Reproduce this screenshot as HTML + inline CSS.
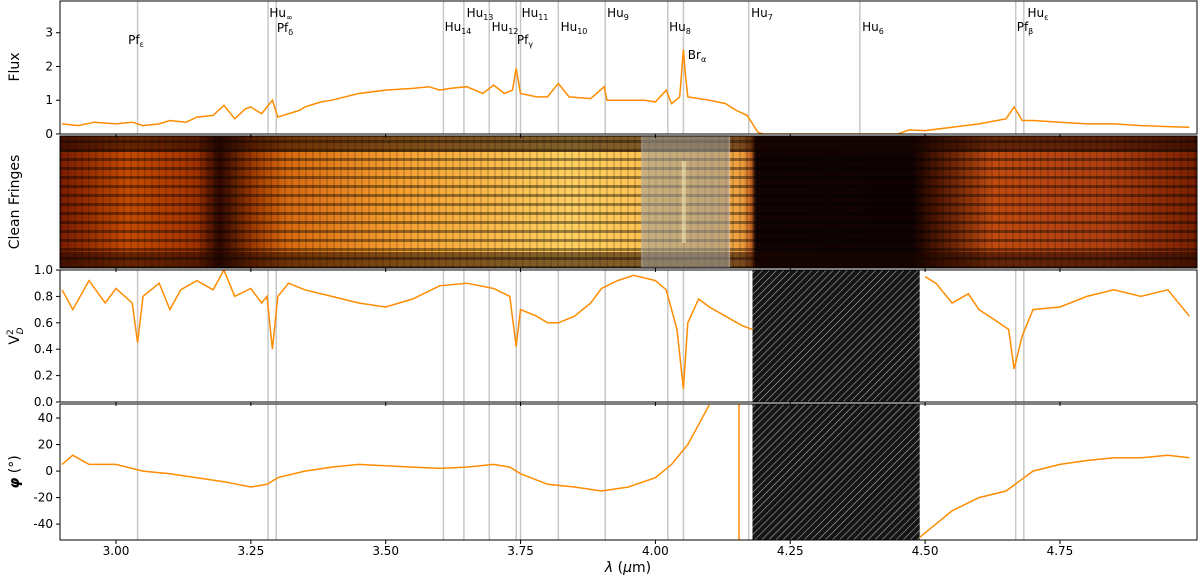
<!DOCTYPE html>
<html><head><meta charset="utf-8"><style>
body{margin:0;background:#fff}
svg{font-family:"DejaVu Sans","Liberation Sans",sans-serif;display:block}
</style></head><body>
<svg id="chart" width="1200" height="580" viewBox="0 0 1200 580" xmlns="http://www.w3.org/2000/svg">
<defs>
<pattern id="hatch" width="5" height="5" patternUnits="userSpaceOnUse" patternTransform="rotate(45)">
<rect width="5" height="5" fill="#151515"/><line x1="0" y1="0" x2="0" y2="5" stroke="#aaa" stroke-width="1.2"/></pattern>
<linearGradient id="fr" x1="0" x2="1" y1="0" y2="0">
<stop offset="0" stop-color="#7a1c00"/><stop offset="0.06" stop-color="#c44a00"/><stop offset="0.12" stop-color="#a33300"/>
<stop offset="0.14" stop-color="#300800"/><stop offset="0.17" stop-color="#a03a00"/><stop offset="0.2" stop-color="#d86a10"/>
<stop offset="0.3" stop-color="#f5a030"/><stop offset="0.45" stop-color="#ffd060"/><stop offset="0.52" stop-color="#ffc050"/>
<stop offset="0.6" stop-color="#f0a040"/><stop offset="0.608" stop-color="#c06020"/><stop offset="0.612" stop-color="#140303"/>
<stop offset="0.75" stop-color="#100202"/><stop offset="0.765" stop-color="#401000"/><stop offset="0.82" stop-color="#c04a10"/>
<stop offset="0.92" stop-color="#b04010"/><stop offset="1" stop-color="#7a2000"/>
</linearGradient>
<pattern id="vstr" width="7" height="132" patternUnits="userSpaceOnUse"><rect x="4" width="2" height="132" fill="#000" opacity="0.15"/></pattern>
<pattern id="hstr" width="1200" height="9" patternUnits="userSpaceOnUse"><rect y="5" width="1200" height="3" fill="#000" opacity="0.4"/></pattern>
</defs>
<g id="root"></g>
</svg>
<script>
const fluxLam=[2.90,2.93,2.96,3.00,3.03,3.05,3.08,3.10,3.13,3.15,3.18,3.20,3.22,3.24,3.25,3.27,3.29,3.30,3.32,3.34,3.35,3.38,3.40,3.45,3.50,3.55,3.58,3.60,3.62,3.65,3.68,3.70,3.72,3.735,3.742,3.75,3.78,3.80,3.82,3.84,3.88,3.905,3.91,3.93,3.98,4.00,4.02,4.03,4.045,4.052,4.056,4.06,4.10,4.13,4.15,4.17,4.19,4.20,4.30,4.40,4.45,4.47,4.50,4.55,4.60,4.65,4.665,4.68,4.70,4.75,4.80,4.85,4.90,4.95,4.99];
const fluxVal=[0.30,0.25,0.35,0.30,0.35,0.25,0.30,0.40,0.35,0.50,0.55,0.85,0.45,0.75,0.80,0.60,1.00,0.50,0.60,0.70,0.80,0.95,1.00,1.20,1.30,1.35,1.40,1.30,1.35,1.40,1.20,1.45,1.20,1.30,1.95,1.20,1.10,1.10,1.50,1.10,1.05,1.40,1.00,1.00,1.00,0.95,1.30,0.90,1.10,2.50,1.70,1.10,1.00,0.90,0.70,0.55,0.05,0.00,0.00,0.00,0.00,0.12,0.10,0.20,0.30,0.45,0.80,0.40,0.40,0.35,0.30,0.30,0.25,0.22,0.20];
const v2Lam=[2.90,2.92,2.95,2.98,3.00,3.03,3.04,3.05,3.08,3.10,3.12,3.15,3.18,3.20,3.22,3.25,3.27,3.28,3.29,3.30,3.32,3.35,3.40,3.45,3.50,3.55,3.60,3.65,3.70,3.73,3.742,3.75,3.78,3.80,3.82,3.85,3.88,3.90,3.93,3.96,4.00,4.02,4.04,4.052,4.06,4.08,4.10,4.13,4.16,4.18];
const v2Val=[0.85,0.70,0.92,0.75,0.86,0.75,0.45,0.80,0.90,0.70,0.85,0.92,0.85,1.00,0.80,0.86,0.75,0.80,0.40,0.80,0.90,0.85,0.80,0.75,0.72,0.78,0.88,0.90,0.86,0.80,0.42,0.70,0.65,0.60,0.60,0.65,0.75,0.86,0.92,0.96,0.92,0.85,0.55,0.10,0.60,0.78,0.72,0.65,0.58,0.55];
const v2Lam2=[4.50,4.52,4.55,4.58,4.60,4.63,4.655,4.665,4.68,4.70,4.75,4.80,4.85,4.90,4.95,4.99];
const v2Val2=[0.95,0.90,0.75,0.82,0.70,0.62,0.55,0.25,0.50,0.70,0.72,0.80,0.85,0.80,0.85,0.65];
const phLam=[2.90,2.92,2.95,3.00,3.05,3.10,3.15,3.20,3.25,3.28,3.30,3.32,3.35,3.40,3.45,3.50,3.55,3.60,3.65,3.70,3.73,3.75,3.80,3.85,3.90,3.95,4.00,4.03,4.06,4.08,4.10];
const phVal=[5,12,5,5,0,-2,-5,-8,-12,-10,-5,-3,0,3,5,4,3,2,3,5,3,-2,-10,-12,-15,-12,-5,5,20,35,50];
const phLam2=[4.49,4.52,4.55,4.60,4.65,4.70,4.75,4.80,4.85,4.90,4.95,4.99];
const phVal2=[-50,-40,-30,-20,-15,0,5,8,10,10,12,10];
const lineLam=[3.04,3.282,3.297,3.607,3.645,3.692,3.742,3.750,3.820,3.907,4.023,4.052,4.173,4.379,4.668,4.683];
const lineLbl=[["Pf","ε",136,44],["Hu","∞",281,17],["Pf","δ",285,32],["Hu","14",458,31],["Hu","13",480,17],["Hu","12",505,31],["Hu","11",535,17],["Pf","γ",525,44],["Hu","10",574,31],["Hu","9",618,17],["Hu","8",680,31],["Br","α",697,59],["Hu","7",762,17],["Hu","6",873,31],["Pf","β",1025,31],["Hu","ε",1038,17]];
const xTicks=[3.00,3.25,3.50,3.75,4.00,4.25,4.50,4.75];
const fluxTicks=[0,1,2,3];
const v2Ticks=[0,0.2,0.4,0.6,0.8,1.0];
const phTicks=[-40,-20,0,20,40];

const X0=60,X1=1197;
const xs=l=>116+(l-3.0)*539.4;
const P=[{t:1,b:134,lo:0,hi:3.94},{t:136,b:268},{t:270,b:402,lo:0,hi:1.0},{t:404,b:540,lo:-52,hi:50.6}];
const ys=(p,v)=>p.b-(v-p.lo)/(p.hi-p.lo)*(p.b-p.t);
const NS="http://www.w3.org/2000/svg";
const root=document.getElementById('root');
function mk(tag,at,parent){const e=document.createElementNS(NS,tag);for(const k in at)e.setAttribute(k,at[k]);(parent||root).appendChild(e);return e;}

// fringes panel
const fp=P[1];
let g=mk('rect',{x:X0,y:fp.t,width:X1-X0,height:fp.b-fp.t,fill:'url(#fr)'});


mk('rect',{x:X0,y:fp.t,width:X1-X0,height:fp.b-fp.t,fill:'url(#vstr)'});
mk('rect',{x:X0,y:fp.t,width:X1-X0,height:fp.b-fp.t,fill:'url(#hstr)'});
mk('rect',{x:X0,y:fp.t,width:X1-X0,height:16,fill:'#1a0500',opacity:0.55});
mk('rect',{x:X0,y:fp.b-16,width:X1-X0,height:16,fill:'#1a0500',opacity:0.55});
g=mk('rect',{x:xs(3.975),y:fp.t,width:xs(4.137)-xs(3.975),height:fp.b-fp.t,fill:'#9aa0a0',opacity:0.55,stroke:'#ccc','stroke-width':1.5});


mk('rect',{x:xs(4.049),y:fp.t+25,width:4,height:fp.b-fp.t-50,fill:'#fff8c0',opacity:0.5});

// vertical lines
[0,2,3].forEach(i=>{const p=P[i];lineLam.forEach(l=>{
 const ln=mk('line',{x1:xs(l),x2:xs(l),y1:p.t,y2:p.b,stroke:'#c8c8c8','stroke-width':1.5});
 
 });});

// hatched regions
[2,3].forEach(i=>{const p=P[i];
 const h=mk('rect',{x:xs(4.18),y:p.t,width:xs(4.49)-xs(4.18),height:p.b-p.t,fill:'url(#hatch)'});
 
 });

function series(lam,val,p,name,clip){
 const d=lam.map((l,k)=>(k?'L':'M')+xs(l).toFixed(1)+','+ys(p,val[k]).toFixed(1)).join('');
 const s=mk('path',{d:d,fill:'none',stroke:'#ff8c00','stroke-width':1.5,'clip-path':'url(#'+clip+')'});
 
 }
[0,2,3].forEach(i=>{const p=P[i];const c=mk('clipPath',{id:'c'+i});mk('rect',{x:X0,y:p.t,width:X1-X0,height:p.b-p.t},c);});
series(fluxLam,fluxVal,P[0],'flux','c0');
series(v2Lam,v2Val,P[2],'v2','c2');
series(v2Lam2,v2Val2,P[2],'v2-red','c2');
series(phLam,phVal,P[3],'phase','c3');
series(phLam2,phVal2,P[3],'phase-red','c3');
const jl=mk('line',{x1:xs(4.155),x2:xs(4.155),y1:P[3].t,y2:P[3].b,stroke:'#ff8c00','stroke-width':1.5});



// frames and ticks
P.forEach((p,i)=>{const f=mk('rect',{x:X0,y:p.t,width:X1-X0,height:p.b-p.t,fill:'none',stroke:'#000','stroke-width':1});
 
 
 xTicks.forEach(t=>{mk('line',{x1:xs(t),x2:xs(t),y1:p.b,y2:p.b+4,stroke:'#000'});});});
xTicks.forEach(t=>{const tx=mk('text',{x:xs(t),y:555,'font-size':12,'text-anchor':'middle'});tx.textContent=t.toFixed(2);
 
 });
function yt(p,ticks,fmt){ticks.forEach(t=>{const y=ys(p,t);mk('line',{x1:X0-4,x2:X0,y1:y,y2:y,stroke:'#000'});
 const tx=mk('text',{x:X0-7,y:y+4,'font-size':12,'text-anchor':'end'});tx.textContent=fmt(t);
 
 });}
yt(P[0],fluxTicks,t=>t);yt(P[2],v2Ticks,t=>t.toFixed(1));yt(P[3],phTicks,t=>t);

// line labels
lineLbl.forEach(a=>{const tx=mk('text',{x:a[2],y:a[3],'font-size':12,'text-anchor':'middle'});
 
 
 tx.appendChild(document.createTextNode(a[0]));
 const s=mk('tspan',{'font-size':8,dy:3},tx);s.textContent=a[1];});

// axis titles
function yl(txt,y,nm){const t=mk('text',{x:0,y:0,'font-size':14,'text-anchor':'middle',transform:'translate(19,'+y+') rotate(-90)'});t.innerHTML=txt;
 
 }
yl('Flux',67,'flux-axis-title');
yl('Clean Fringes',202,'fringes-axis-title');
yl('V<tspan font-size="9" dy="-6">2</tspan><tspan font-size="9" dy="10" dx="-5" font-style="italic">D</tspan>',336,'v2-axis-title');
yl('<tspan font-style="italic" font-weight="bold">φ</tspan> (<tspan font-style="italic">°</tspan>)',472,'phase-axis-title');
const xl=mk('text',{x:628,y:572,'font-size':14,'text-anchor':'middle'});
xl.innerHTML='<tspan font-style="italic">λ</tspan> (<tspan font-style="italic">μ</tspan>m)';


</script>
</body></html>
